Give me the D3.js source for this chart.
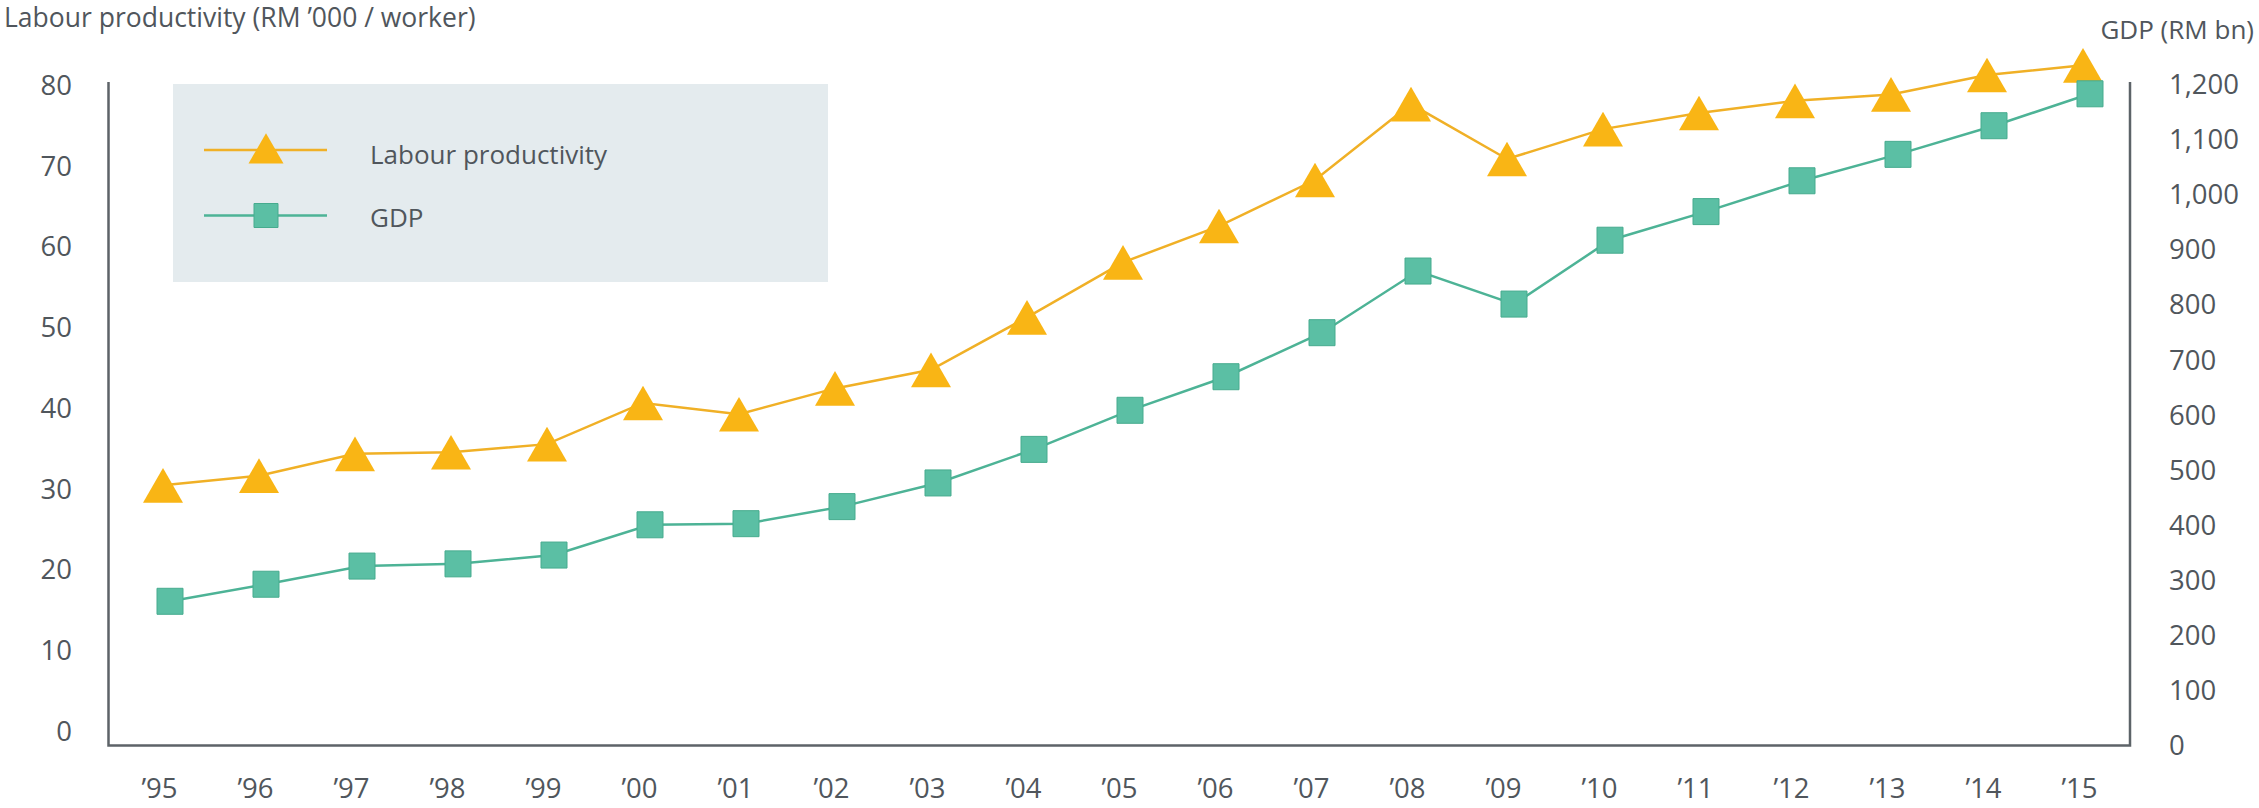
<!DOCTYPE html>
<html>
<head>
<meta charset="utf-8">
<script src="https://cdn.jsdelivr.net/npm/d3@7"></script>
<style>
  html, body { margin: 0; padding: 0; background: #ffffff; }
  svg { display: block; }
  text { font-family: "Open Sans", "Noto Sans", sans-serif; fill: #50565c; }
</style>
</head>
<body>
<svg id="chart" width="2259" height="808"></svg>
<script>
// ---- data ----
const years = ["’95","’96","’97","’98","’99","’00","’01","’02","’03","’04","’05","’06","’07","’08","’09","’10","’11","’12","’13","’14","’15"];
const productivity = [30.5, 31.7, 34.4, 34.6, 35.6, 40.7, 39.3, 42.5, 44.8, 51.3, 58.1, 62.6, 68.3, 77.7, 70.9, 74.6, 76.6, 78.1, 78.9, 81.3, 82.5];
const gdp = [262, 293, 326, 330, 346, 401, 403, 434, 477, 538, 609, 670, 750, 862, 802, 918, 970, 1026, 1074, 1126, 1184];
const leftTicks = [0, 10, 20, 30, 40, 50, 60, 70, 80];
const rightTicks = [0, 100, 200, 300, 400, 500, 600, 700, 800, 900, 1000, 1100, 1200];
const seriesNames = ["Labour productivity", "GDP"];
const leftTitle = "Labour productivity (RM ’000 / worker)";
const rightTitle = "GDP (RM bn)";

// ---- style ----
const orange = "#F9B515", orangeLine = "#F0B026";
const green = "#5BBFA4", greenStroke = "#46AB8E", greenLine = "#4DB396";
const axisColor = "#5d6368";
const tickFont = 27.5;

const plot = { left: 108.5, right: 2130, top: 82, bottom: 745.5 };

const svg = d3.select("#chart");

const x = d3.scalePoint().domain(years).range([163, 2083]);
const yL = d3.scaleLinear().domain([0, 80]).range([731.7, 85.5]);
const yR = d3.scaleLinear().domain([0, 1200]).range([745.5, 85]);

// legend background
const lg = svg.append("g");
lg.append("rect").attr("x", 173).attr("y", 84).attr("width", 655).attr("height", 198).attr("fill", "#E4EBEE");

// axes frame
svg.append("path")
  .attr("d", d3.line()([[plot.left, plot.top], [plot.left, plot.bottom], [plot.right, plot.bottom], [plot.right, plot.top]]))
  .attr("fill", "none").attr("stroke", axisColor).attr("stroke-width", 2.5);

// left axis
const gL = svg.append("g").attr("transform", `translate(${plot.left},0)`)
  .call(d3.axisLeft(yL).tickValues(leftTicks).tickSize(0).tickPadding(36.5));
gL.select(".domain").remove();
gL.selectAll("text").attr("font-size", tickFont).style("font-family", "Open Sans").attr("fill", "#50565c");

// right axis
const gR = svg.append("g").attr("transform", `translate(${plot.right},0)`)
  .call(d3.axisRight(yR).tickValues(rightTicks).tickFormat(d3.format(",")).tickSize(0).tickPadding(39));
gR.select(".domain").remove();
gR.selectAll("text").attr("font-size", tickFont).style("font-family", "Open Sans").attr("fill", "#50565c");

// bottom axis
const gB = svg.append("g").attr("transform", `translate(-4,${plot.bottom})`)
  .call(d3.axisBottom(x).tickSize(0).tickPadding(33));
gB.select(".domain").remove();
gB.selectAll("text").attr("font-size", tickFont).style("font-family", "Open Sans").attr("fill", "#50565c");

// titles
svg.append("text").attr("x", 4).attr("y", 27).attr("font-size", 26.5).text(leftTitle);
svg.append("text").attr("x", 2254).attr("y", 39).attr("text-anchor", "end").attr("font-size", 26).text(rightTitle);

// lines
const sqDx = 7;
const lineL = d3.line().x((d, i) => x(years[i])).y(d => yL(d));
const lineR = d3.line().x((d, i) => x(years[i]) + sqDx).y(d => yR(d));

svg.append("path").attr("d", lineL(productivity)).attr("fill", "none").attr("stroke", orangeLine).attr("stroke-width", 2.5);
svg.append("path").attr("d", lineR(gdp)).attr("fill", "none").attr("stroke", greenLine).attr("stroke-width", 2.5);

// markers
const side = 40;
const triArea = Math.sqrt(3) / 4 * side * side;
const triOff = side * Math.sqrt(3) / 12; // centroid -> bbox centre
const tri = d3.symbol().type(d3.symbolTriangle).size(triArea);
svg.append("g").selectAll("path").data(productivity).join("path")
  .attr("d", tri)
  .attr("transform", (d, i) => `translate(${x(years[i])},${yL(d) + triOff})`)
  .attr("fill", orange);

const sq = d3.symbol().type(d3.symbolSquare).size(26 * 26);
svg.append("g").selectAll("path").data(gdp).join("path")
  .attr("d", sq)
  .attr("transform", (d, i) => `translate(${x(years[i]) + sqDx},${yR(d)})`)
  .attr("fill", green).attr("stroke", greenStroke).attr("stroke-width", 1);

// legend items
const lside = 35;
lg.append("line").attr("x1", 204).attr("x2", 327).attr("y1", 150).attr("y2", 150).attr("stroke", orangeLine).attr("stroke-width", 2.5);
lg.append("path").attr("d", d3.symbol().type(d3.symbolTriangle).size(Math.sqrt(3) / 4 * lside * lside))
  .attr("transform", `translate(266,${148.3 + lside * Math.sqrt(3) / 12})`).attr("fill", orange);
lg.append("line").attr("x1", 204).attr("x2", 327).attr("y1", 215.5).attr("y2", 215.5).attr("stroke", greenLine).attr("stroke-width", 2.5);
lg.append("path").attr("d", d3.symbol().type(d3.symbolSquare).size(24 * 24))
  .attr("transform", `translate(266,215.5)`).attr("fill", green).attr("stroke", greenStroke).attr("stroke-width", 1);
lg.append("text").attr("x", 370).attr("y", 164).attr("font-size", 26).text(seriesNames[0]);
lg.append("text").attr("x", 370).attr("y", 227).attr("font-size", 26).text(seriesNames[1]);
</script>
</body>
</html>
